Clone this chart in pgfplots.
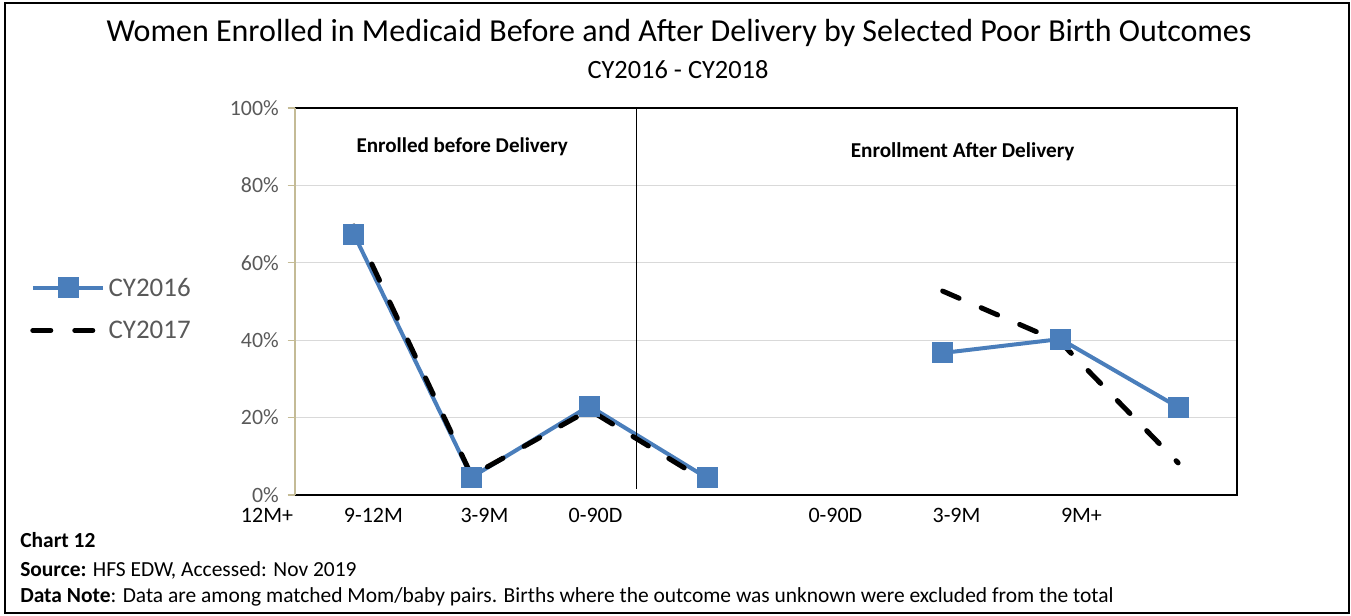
\documentclass[border=0pt]{standalone}
\usepackage{fontspec}
\setmainfont{Carlito}
\usepackage{pgfplots}
\pgfplotsset{compat=1.18}
\definecolor{blueline}{RGB}{74,126,187}
\definecolor{tanaxis}{RGB}{196,187,150}
\definecolor{gridgray}{RGB}{217,217,217}
\definecolor{ticktext}{RGB}{89,89,89}
\begin{document}
\begin{tikzpicture}
\begin{scope}[x=0.75pt,y=-0.75pt]
\path (0,0) rectangle (1351,615);
\draw[line width=1.5pt] (5,3) rectangle (1349,613);
\node[font=\fontsize{24}{28}\selectfont] at (679,33) {Women Enrolled in Medicaid Before and After Delivery by Selected Poor Birth Outcomes};
\node[font=\fontsize{19.8}{23}\selectfont] at (678,70) {CY2016 - CY2018};
\node[anchor=west, inner sep=0pt, font=\fontsize{16.1}{19}\selectfont\bfseries] at (20,540) {Chart 12};
\node[anchor=west, inner sep=0pt, font=\fontsize{16.1}{19}\selectfont] at (20,570) {\textbf{Source:} HFS EDW, Accessed: Nov 2019};
\node[anchor=west, inner sep=0pt, font=\fontsize{16.1}{19}\selectfont] at (20,597) {\textbf{Data Note}: Data are among matched Mom/baby pairs. Births where the outcome was unknown were excluded from the total};
\node[inner sep=0pt, font=\fontsize{16.5}{19}\selectfont] at (267,515) {12M+};
\end{scope}
\begin{axis}[
  at={(221.25pt,-371.25pt)}, anchor=south west,
  scale only axis, width=706.5pt, height=290.25pt,
  xmin=-0.5, xmax=7.5, ymin=0, ymax=100,
  axis line style={draw=none},
  ytick={0,20,40,60,80,100},
  yticklabels={0\%,20\%,40\%,60\%,80\%,100\%},
  ymajorgrids, grid style={gridgray, line width=1pt},
  ytick pos=left, tick align=outside,
  major tick length=5.5pt,
  y tick style={tanaxis, line width=0.9pt},
  yticklabel style={font=\fontsize{16.4}{19}\selectfont, text=ticktext, xshift=-5.5pt, inner sep=1pt},
  xtick={0.166,1.109,2.052,4.089,5.118,6.179},
  xticklabels={9-12M,3-9M,0-90D,0-90D,3-9M,9M+},
  x tick style={draw=none},
  xticklabel style={font=\fontsize{16.5}{19}\selectfont, yshift=-0.5pt},
  /pgf/number format/assume math mode=true,
  clip=false,
  unbounded coords=jump,
  legend style={at={(-0.2813,0.4806)}, anchor=west, draw=none, fill=none,
    font=\fontsize{20.2}{23}\selectfont, text=ticktext,
    row sep=13pt, inner sep=0pt, nodes={inner sep=2pt}},
  legend cell align=left,
  legend image code/.code={\draw[#1, mark repeat=2, mark phase=2] plot coordinates {(0pt,0pt) (26.5pt,0pt) (53pt,0pt)};},
]
\addplot[blueline, line width=3pt, mark=square*, mark size=7.5pt, mark options={solid, fill=blueline, draw=blueline, line width=0pt}]
  coordinates {(0,67.4) (1,4.6) (2,23.0) (3,4.4) (4,nan) (5,36.7) (6,40.3) (7,22.7)};
\addlegendentry{CY2016}
\addplot[black, line width=3.75pt, line cap=round, dash pattern=on 13.5pt off 18pt]
  coordinates {(0,69.5) (1,5.0) (2,22.0) (3,3.4) (4,nan) (5,52.7) (6,39.5) (7,8.3)};
\addlegendentry{CY2017}
\draw[line width=1.5pt] (rel axis cs:0,1) -- (rel axis cs:1,1) -- (rel axis cs:1,0) -- (rel axis cs:0,0);
\draw[tanaxis, line width=1.2pt] (rel axis cs:0,0) -- (rel axis cs:0,1);
\draw[line width=1.1pt] (axis cs:2.40,1.5) -- (axis cs:2.40,100);
\node[font=\fontsize{15.8}{19}\selectfont\bfseries] at (axis cs:0.92,90.1) {Enrolled before Delivery};
\node[font=\fontsize{15.9}{19}\selectfont\bfseries] at (axis cs:5.17,88.8) {Enrollment After Delivery};
\end{axis}
\end{tikzpicture}
\end{document}
